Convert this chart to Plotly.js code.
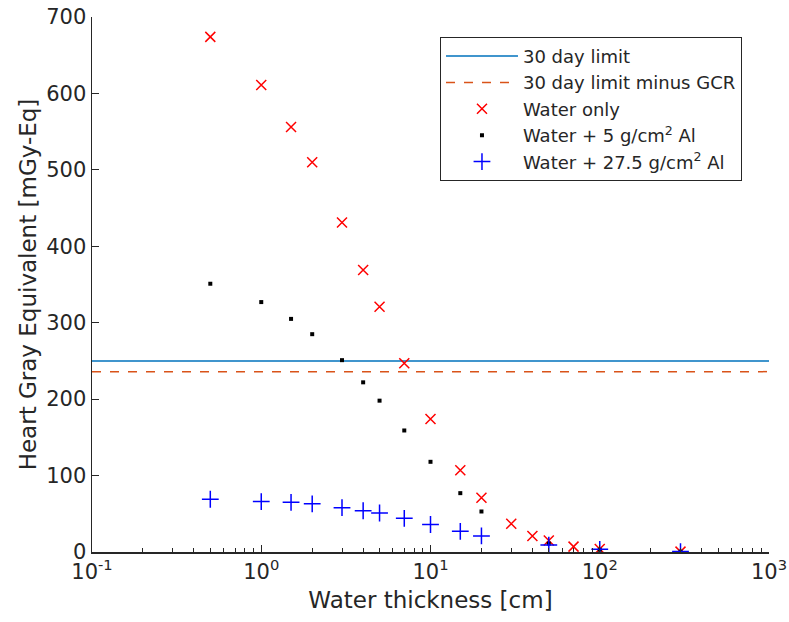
<!DOCTYPE html>
<html><head><meta charset="utf-8">
<script src="https://cdn.plot.ly/plotly-3.0.1.min.js"></script>
<style>html,body{margin:0;padding:0;background:#fff}#chart{width:789px;height:622px}</style>
</head><body><div id="chart"></div>
<script>
// Data
const waterX   = [0.5, 1, 1.5, 2, 3, 4, 5, 7, 10, 15, 20, 30, 40, 50, 70, 100, 300];
const waterY   = [674, 611, 556, 510, 431, 369, 321, 247, 174, 107, 71, 37, 21, 15, 7, 4, 0.5];
const al5X     = [0.5, 1, 1.5, 2, 3, 4, 5, 7, 10, 15, 20, 50, 100, 300];
const al5Y     = [351, 327, 305, 285, 251, 222, 198, 159, 118, 77, 53, 11, 3, 0.5];
const al27X    = [0.5, 1, 1.5, 2, 3, 4, 5, 7, 10, 15, 20, 50, 100, 300];
const al27Y    = [69, 66, 65, 63, 58, 54, 51, 44, 36, 27, 21, 9, 3.5, 0.5];
const limitX   = [0.1, 1000];
const limit30  = [250, 250];
const limitGCR = [236, 236];
const xTickVals = [0.1, 1, 10, 100, 1000];
const xTickText = ['10<sup>-1</sup>', '10<sup>0</sup>', '10<sup>1</sup>', '10<sup>2</sup>', '10<sup>3</sup>'];
const yTickVals = [0, 100, 200, 300, 400, 500, 600, 700];

const minorVals = [];
for (const d of [0.1, 1, 10, 100]) for (let k = 2; k <= 9; k++) minorVals.push(+(d * k).toPrecision(3));

const txt = '#262626';
const traces = [
  {x: limitX, y: limit30, mode: 'lines', name: '30 day limit', line: {color: '#0072BD', width: 1.5}},
  {x: limitX, y: limitGCR, mode: 'lines', name: '30 day limit minus GCR', line: {color: '#D95319', width: 1.5, dash: 'dash'}},
  {x: waterX, y: waterY, mode: 'markers', name: 'Water only',
   marker: {symbol: 'x-thin-open', size: 10, color: '#FF0000', line: {color: '#FF0000', width: 1.5}}},
  {x: al5X, y: al5Y, mode: 'markers', name: 'Water + 5 g/cm<sup>2</sup> Al',
   marker: {symbol: 'square', size: 4, color: '#000000'}},
  {x: al27X, y: al27Y, mode: 'markers', name: 'Water + 27.5 g/cm<sup>2</sup> Al',
   marker: {symbol: 'cross-thin-open', size: 12, color: '#0000FF', line: {color: '#0000FF', width: 1.5}}}
];

const layout = {
  width: 789, height: 622,
  margin: {l: 92, r: 20, t: 17, b: 70},
  paper_bgcolor: '#fff', plot_bgcolor: '#fff',
  font: {family: 'DejaVu Sans, sans-serif', color: txt, size: 18},
  showlegend: true,
  legend: {x: 0.514, y: 0.963, xanchor: 'left', yanchor: 'top',
           bgcolor: '#fff', bordercolor: txt, borderwidth: 1, itemwidth: 72,
           font: {size: 18, color: txt}, tracegroupgap: 0},
  xaxis: {type: 'log', range: [-1, 3], tickmode: 'array', tickvals: xTickVals, ticktext: xTickText,
          ticks: 'inside', ticklen: 7, tickcolor: txt, tickwidth: 1,
          minor: {tickmode: 'array', tickvals: minorVals, ticks: 'inside', ticklen: 4, tickcolor: txt, showgrid: false},
          showline: true, linecolor: txt, linewidth: 1.5, mirror: false,
          showgrid: false, zeroline: false, tickfont: {size: 21, color: txt},
          title: {text: 'Water thickness [cm]', font: {size: 23, color: txt}, standoff: 9}},
  yaxis: {range: [0, 700], tickmode: 'array', tickvals: yTickVals,
          ticks: 'inside', ticklen: 7, tickcolor: txt, tickwidth: 1,
          showline: true, linecolor: txt, linewidth: 1.5, mirror: false,
          showgrid: false, zeroline: false, tickfont: {size: 21, color: txt},
          title: {text: 'Heart Gray Equivalent [mGy-Eq]', font: {size: 23, color: txt}, standoff: 3}}
};

Plotly.newPlot('chart', traces, layout, {displayModeBar: false, staticPlot: true});
</script></body></html>
